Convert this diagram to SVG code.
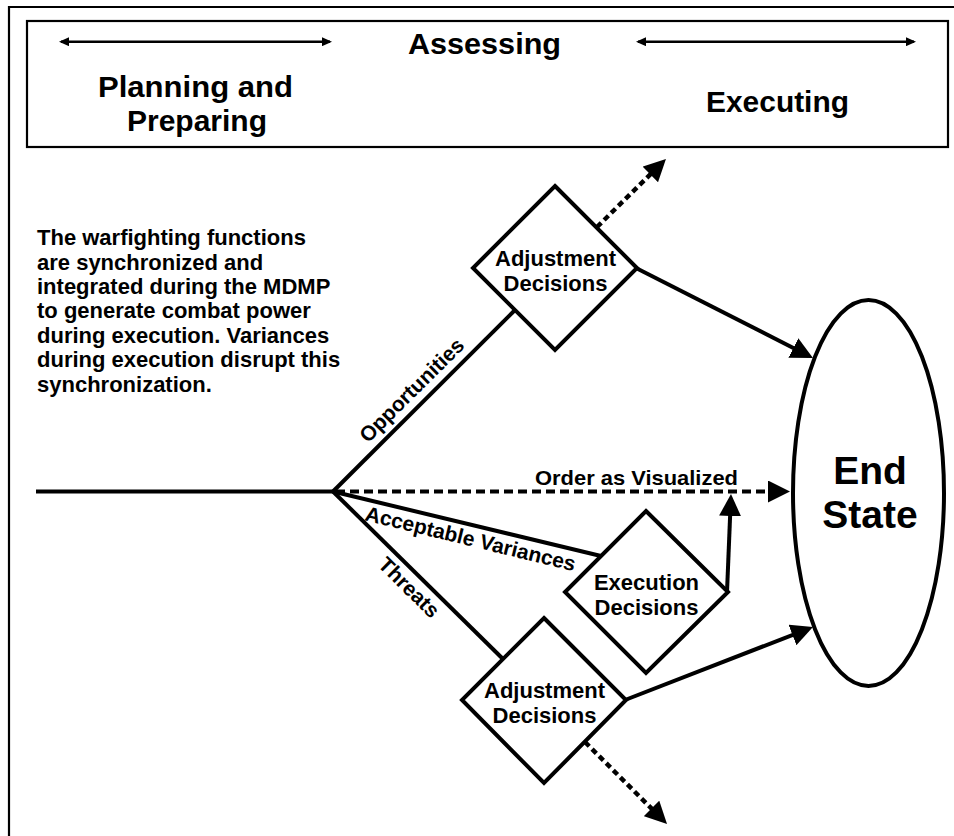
<svg xmlns="http://www.w3.org/2000/svg" width="954" height="836" viewBox="0 0 954 836">
<style>
text{font-family:"Liberation Sans",Arial,sans-serif;font-weight:bold;fill:#000}
.hdr{font-size:30px}
.para{font-size:22px}
.lbl{font-size:21px}
.node{font-size:22px;text-anchor:middle}
.big{font-size:39px;text-anchor:middle}
.frame{fill:none;stroke:#000;stroke-width:2.2}
.shape{fill:#fff;stroke:#000;stroke-width:4}
.ln{fill:none;stroke:#000;stroke-width:4}
.dash{fill:none;stroke:#000;stroke-width:4;stroke-dasharray:9 5}
.dot{fill:none;stroke:#000;stroke-width:4.5;stroke-dasharray:6 4}
.thin{fill:none;stroke:#000;stroke-width:2.5}
</style>
<defs>
<marker id="ah" markerUnits="userSpaceOnUse" markerWidth="22" markerHeight="22" refX="17" refY="11" orient="auto"><path d="M0,0 L22,11 L0,22 z" fill="#000"/></marker>
<marker id="sh" markerUnits="userSpaceOnUse" markerWidth="10" markerHeight="9" refX="8" refY="4.5" orient="auto-start-reverse"><path d="M0,0 L10,4.5 L0,9 z" fill="#000"/></marker>
</defs>
<rect width="954" height="836" fill="#fff"/>
<path class="frame" d="M9,836 V7 H954"/>
<g id="header">
<rect class="frame" x="27" y="21" width="921" height="126"/>
<text class="hdr" x="408" y="54" textLength="153" lengthAdjust="spacingAndGlyphs">Assessing</text>
<text class="hdr" x="98" y="97" textLength="195" lengthAdjust="spacingAndGlyphs">Planning and</text>
<text class="hdr" x="127" y="131" textLength="140" lengthAdjust="spacingAndGlyphs">Preparing</text>
<text class="hdr" x="706" y="112" textLength="143" lengthAdjust="spacingAndGlyphs">Executing</text>
<line class="thin" x1="61" y1="41.7" x2="330" y2="41.7" marker-start="url(#sh)" marker-end="url(#sh)"/>
<line class="thin" x1="638" y1="41.7" x2="914" y2="41.7" marker-start="url(#sh)" marker-end="url(#sh)"/>
</g>
<g id="note">
<text class="para" x="37" y="245">The warfighting functions</text>
<text class="para" x="37" y="269.5">are synchronized and</text>
<text class="para" x="37" y="294">integrated during the MDMP</text>
<text class="para" x="37" y="318.4">to generate combat power</text>
<text class="para" x="37" y="342.8">during execution. Variances</text>
<text class="para" x="37" y="367.3">during execution disrupt this</text>
<text class="para" x="37" y="391.7">synchronization.</text>
</g>
<g id="connectors">
<line class="ln" x1="36" y1="491.5" x2="333" y2="491.5"/>
<line class="ln" x1="333" y1="491.5" x2="516" y2="309"/>
<line class="ln" x1="333" y1="491.5" x2="601" y2="556"/>
<line class="ln" x1="333" y1="491.5" x2="504" y2="660"/>
<line class="dash" x1="336" y1="491.5" x2="785" y2="491.5" marker-end="url(#ah)"/>
<line class="ln" x1="636" y1="268" x2="808.5" y2="355.7" marker-end="url(#ah)"/>
<line class="ln" x1="625" y1="700" x2="808.3" y2="628.8" marker-end="url(#ah)"/>
<line class="ln" x1="727" y1="592" x2="730.8" y2="499" marker-end="url(#ah)"/>
<line class="dot" x1="597" y1="227" x2="662.4" y2="162.5" marker-end="url(#ah)"/>
<line class="dot" x1="585" y1="742" x2="663.5" y2="820.5" marker-end="url(#ah)"/>
<text class="lbl" x="535" y="485" textLength="203" lengthAdjust="spacingAndGlyphs">Order as Visualized</text>
<text class="lbl" transform="translate(367.9,443.7) rotate(-44.8)">Opportunities</text>
<text class="lbl" transform="translate(363.9,520.2) rotate(13.7)">Acceptable Variances</text>
<text class="lbl" transform="translate(377.1,565.8) rotate(44.8)">Threats</text>
</g>
<g id="adjust-top">
<polygon class="shape" points="555,186 637,268 555,350 473,268"/>
<text class="node" x="555.5" y="266">Adjustment</text>
<text class="node" x="555.5" y="290.5">Decisions</text>
</g>
<g id="execution">
<polygon class="shape" points="646,511 728,592 646,673 565,592"/>
<text class="node" x="646.5" y="590">Execution</text>
<text class="node" x="646.5" y="614.5">Decisions</text>
</g>
<g id="adjust-bottom">
<polygon class="shape" points="544,618 626,700 544,783 462,700"/>
<text class="node" x="544.5" y="698">Adjustment</text>
<text class="node" x="544.5" y="722.5">Decisions</text>
</g>
<g id="end-state">
<ellipse class="shape" cx="868.5" cy="493" rx="75.5" ry="193"/>
<text class="big" x="870" y="484">End</text>
<text class="big" x="870" y="528">State</text>
</g>
</svg>
